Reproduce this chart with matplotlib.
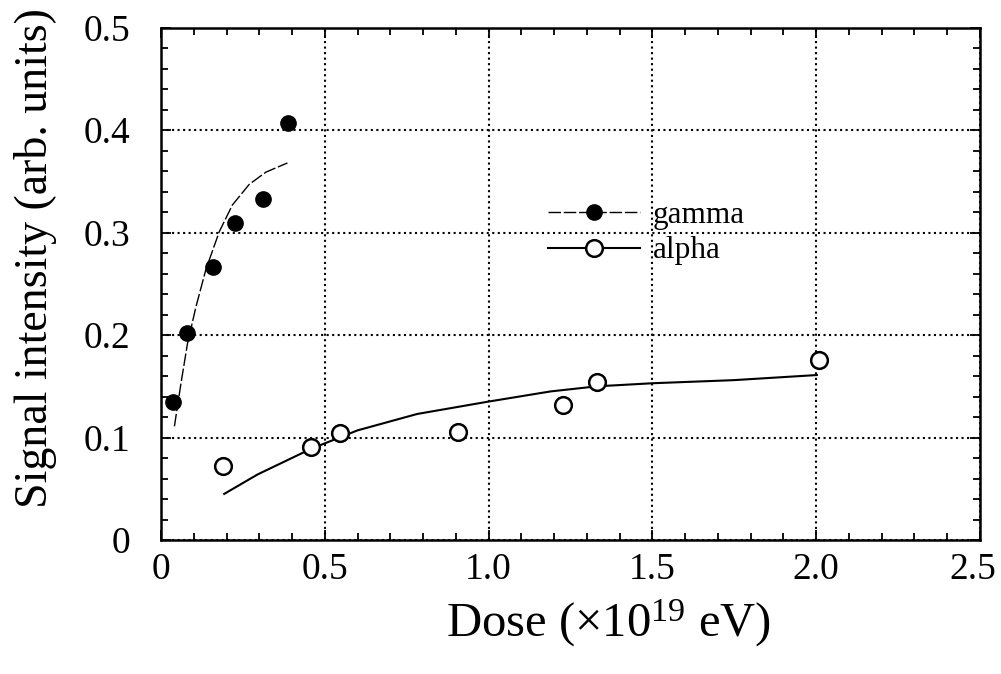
import matplotlib
matplotlib.use("Agg")
import matplotlib.pyplot as plt
from matplotlib.ticker import MultipleLocator
from matplotlib.transforms import ScaledTranslation

plt.rcParams['font.family'] = ['Liberation Serif', 'DejaVu Serif']
plt.rcParams['mathtext.fontset'] = 'custom'
plt.rcParams['mathtext.rm'] = 'Liberation Serif'
plt.rcParams['mathtext.it'] = 'Liberation Serif:italic'

# gamma data points
gamma_x = [0.038, 0.078, 0.158, 0.226, 0.310, 0.389]
gamma_y = [0.135, 0.202, 0.266, 0.309, 0.333, 0.407]
# gamma fit curve
gamma_fit_x = [0.041, 0.061, 0.081, 0.107, 0.137, 0.178, 0.218, 0.269, 0.320, 0.386]
gamma_fit_y = [0.111, 0.153, 0.192, 0.228, 0.264, 0.301, 0.327, 0.347, 0.359, 0.368]

# alpha data points
alpha_x = [0.190, 0.458, 0.546, 0.906, 1.228, 1.331, 2.009]
alpha_y = [0.072, 0.091, 0.104, 0.105, 0.132, 0.154, 0.176]
# alpha fit curve
alpha_fit_x = [0.193, 0.295, 0.458, 0.600, 0.782, 0.998, 1.189, 1.331, 1.501, 1.747, 2.002]
alpha_fit_y = [0.045, 0.064, 0.089, 0.107, 0.123, 0.135, 0.145, 0.150, 0.153, 0.156, 0.161]

x_ticks = [0, 0.5, 1.0, 1.5, 2.0, 2.5]
x_ticklabels = ['0', '0.5', '1.0', '1.5', '2.0', '2.5']
y_ticks = [0, 0.1, 0.2, 0.3, 0.4, 0.5]
y_ticklabels = ['0', '0.1', '0.2', '0.3', '0.4', '0.5']

fig = plt.figure(figsize=(10.01, 6.74), dpi=100)
ax = fig.add_axes([161/1001, 1-540/674, (980-161)/1001, (540-27.7)/674])

ax.plot(gamma_fit_x, gamma_fit_y, color='black', lw=1.0, ls=(0, (9, 2)))
ax.plot(alpha_fit_x, alpha_fit_y, color='black', lw=1.5, ls='-')
ax.plot(gamma_x, gamma_y, 'o', color='black', ms=11, zorder=5)
ax.plot(alpha_x, alpha_y, 'o', mfc='white', mec='black', mew=1.8, ms=12, zorder=5)

# legend handles
h1, = ax.plot([], [], color='black', lw=1.0, ls=(0, (9, 2)), marker='o', ms=11, mfc='black', mec='black')
h2, = ax.plot([], [], color='black', lw=1.5, ls='-', marker='o', ms=12, mfc='white', mec='black', mew=1.8)
leg = ax.legend([h1, h2], ['gamma', 'alpha'], loc='center left',
                bbox_to_anchor=((548-161)/819, (540-233)/512.3), frameon=False,
                fontsize=22.5, handlelength=2.95, handletextpad=0.4,
                labelspacing=0.22, borderpad=0, borderaxespad=0, numpoints=1)

ax.set_xlim(0, 2.5)
ax.set_ylim(0, 0.5)
ax.set_xticks(x_ticks)
ax.set_xticklabels(x_ticklabels)
ax.set_yticks(y_ticks)
ax.set_yticklabels(y_ticklabels)
ax.xaxis.set_minor_locator(MultipleLocator(0.1))
ax.yaxis.set_minor_locator(MultipleLocator(0.02))
ax.tick_params(which='both', direction='in', top=True, right=True, width=1.3, labelsize=27)
ax.tick_params(which='major', length=7)
ax.tick_params(which='minor', length=5)
ax.tick_params(axis='x', which='major', pad=9)
ax.tick_params(axis='y', which='major', pad=22)
for s in ax.spines.values():
    s.set_linewidth(1.8)

# nudge the last x tick label left so it stays inside the figure
last = ax.get_xticklabels()[-1]
last.set_transform(last.get_transform() + ScaledTranslation(-7/100, 0, fig.dpi_scale_trans))

ax.grid(True, which='major', color='black', ls=':', lw=1.5)

ax.set_xlabel('Dose ($\\times$10$^{19}$ eV)', fontsize=35)
ax.xaxis.set_label_coords((608-161)/819, -0.113)
ax.set_ylabel('Signal intensity (arb. units)', fontsize=33)
ax.yaxis.set_label_coords(-0.127, (540-258)/512.3)

fig.savefig('out.png', dpi=100)
